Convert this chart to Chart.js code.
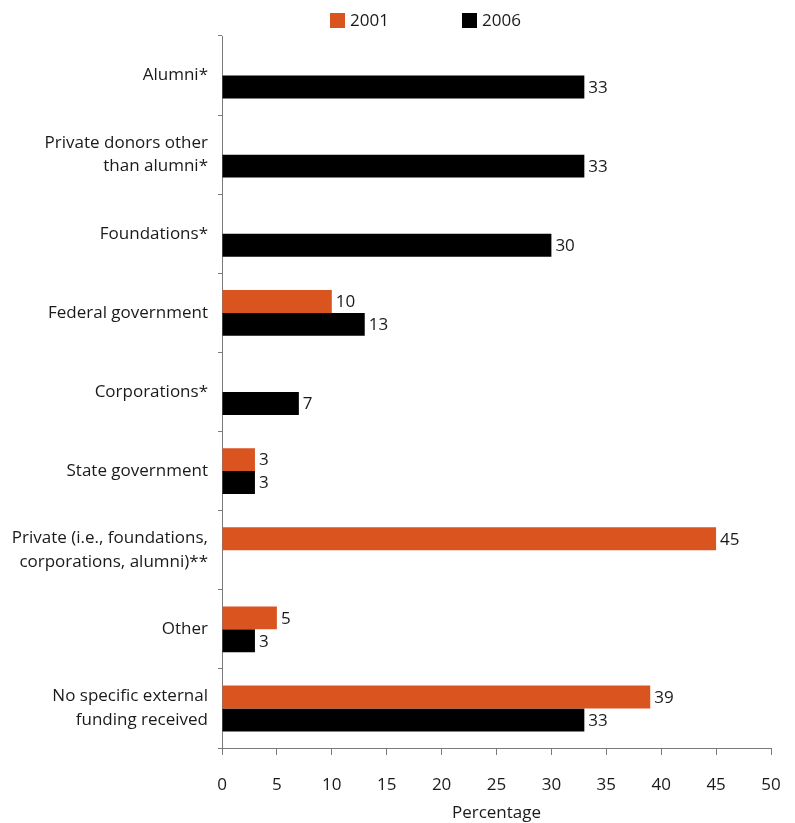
<!DOCTYPE html>
<html>
<head>
<meta charset="utf-8">
<script src="https://cdn.jsdelivr.net/npm/chart.js@4/dist/chart.umd.min.js"></script>
<style>
  html, body { margin: 0; padding: 0; background: #fff; }
  canvas { display: block; }
</style>
</head>
<body>
<canvas id="c" width="795" height="823"></canvas>
<script>
// Funding sources (each entry may wrap over two lines)
const categories = [
  ["Alumni*"],
  ["Private donors other", "than alumni*"],
  ["Foundations*"],
  ["Federal government"],
  ["Corporations*"],
  ["State government"],
  ["Private (i.e., foundations,", "corporations, alumni)**"],
  ["Other"],
  ["No specific external", "funding received"]
];

// Percentage of institutions, by survey year
const values2001 = [null, null, null, 10, null, 3, 45, 5, 39];
const values2006 = [33, 33, 30, 13, 7, 3, null, 3, 33];

const xTicks = [0, 5, 10, 15, 20, 25, 30, 35, 40, 45, 50];

const FONT = "'Open Sans', 'Noto Sans', sans-serif";
const FONT_SIZE = 17;
const TEXT = '#1a1a1a';
const AXIS = '#7a7a7a';

// Value labels at the end of each bar
const barValueLabels = {
  id: 'barValueLabels',
  afterDatasetsDraw(chart) {
    const ctx = chart.ctx;
    ctx.save();
    ctx.font = FONT_SIZE + 'px ' + FONT;
    ctx.fillStyle = TEXT;
    ctx.textAlign = 'left';
    ctx.textBaseline = 'middle';
    chart.data.datasets.forEach((ds, di) => {
      const meta = chart.getDatasetMeta(di);
      meta.data.forEach((el, i) => {
        const v = ds.data[i];
        if (v === null || v === undefined) return;
        ctx.fillText(String(v), el.x + 4, el.y + 1);
      });
    });
    ctx.restore();
  }
};

// Simple legend row above the plot
const topLegend = {
  id: 'topLegend',
  afterDraw(chart, args, opts) {
    const ctx = chart.ctx;
    ctx.save();
    ctx.font = FONT_SIZE + 'px ' + FONT;
    ctx.textBaseline = 'middle';
    ctx.textAlign = 'left';
    let x = opts.x;
    const y = opts.y;
    chart.data.datasets.forEach(ds => {
      ctx.fillStyle = ds.backgroundColor;
      ctx.fillRect(x, y - 7, 15, 15);
      ctx.fillStyle = TEXT;
      ctx.fillText(ds.label, x + 20, y + 1);
      x += opts.spacing;
    });
    ctx.restore();
  }
};

new Chart(document.getElementById('c'), {
  type: 'bar',
  data: {
    labels: categories,
    datasets: [
      { label: '2001', data: values2001, backgroundColor: '#da5420',
        categoryPercentage: 0.58, barPercentage: 1.0 },
      { label: '2006', data: values2006, backgroundColor: '#000000',
        categoryPercentage: 0.58, barPercentage: 1.0 }
    ]
  },
  options: {
    indexAxis: 'y',
    responsive: false,
    devicePixelRatio: 1,
    animation: false,
    layout: { padding: { top: 36, right: 24, left: 0, bottom: 0 } },
    plugins: {
      legend: { display: false },
      tooltip: { enabled: false },
      topLegend: { x: 330, y: 20, spacing: 132 }
    },
    scales: {
      x: {
        min: 0, max: 50,
        afterBuildTicks(scale) { scale.ticks = xTicks.map(v => ({ value: v })); },
        afterFit(scale) { scale.height = 75; scale.paddingRight = 0; },
        grid: { display: true, drawOnChartArea: false, drawTicks: true, tickLength: 7, color: AXIS },
        border: { display: true, color: AXIS, width: 1 },
        ticks: { color: TEXT, font: { family: FONT, size: FONT_SIZE }, padding: 20, maxRotation: 0 },
        title: { display: true, text: 'Percentage', color: TEXT, font: { family: FONT, size: FONT_SIZE }, padding: { top: 0, bottom: 0 } }
      },
      y: {
        afterFit(scale) { scale.width = 222; },
        grid: { display: true, drawOnChartArea: false, drawTicks: true, tickLength: 4, offset: true, color: AXIS },
        border: { display: true, color: AXIS, width: 1 },
        ticks: { color: TEXT, font: { family: FONT, size: FONT_SIZE, lineHeight: 1.4 }, padding: 10, autoSkip: false }
      }
    }
  },
  plugins: [barValueLabels, topLegend]
});
</script>
</body>
</html>
